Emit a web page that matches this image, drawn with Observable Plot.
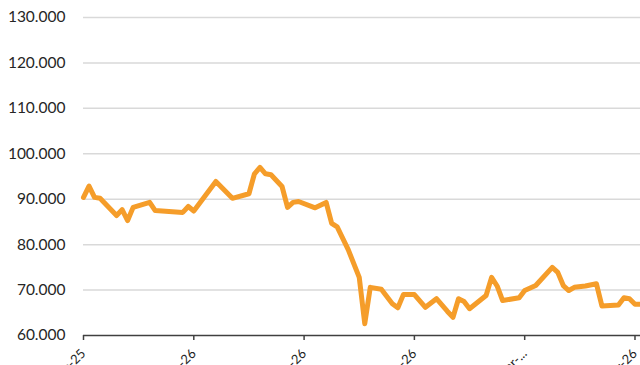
<!DOCTYPE html>
<html><head><meta charset="utf-8">
<script src="https://cdn.jsdelivr.net/npm/d3@7"></script>
<script src="https://cdn.jsdelivr.net/npm/@observablehq/plot@0.6"></script>
<style>body{margin:0;background:#fff;overflow:hidden;}</style>
</head><body><div id="chart"></div>
<script>
const dates = ["2025-12-15","2025-12-16","2025-12-17","2025-12-18","2025-12-21","2025-12-22","2025-12-23","2025-12-24","2025-12-27","2025-12-28",
"2026-01-02","2026-01-03","2026-01-04","2026-01-08","2026-01-11","2026-01-14","2026-01-15","2026-01-16","2026-01-17","2026-01-18",
"2026-01-20","2026-01-21","2026-01-22","2026-01-23","2026-01-26","2026-01-28","2026-01-29","2026-01-30","2026-02-01","2026-02-03",
"2026-02-04","2026-02-05","2026-02-07","2026-02-09","2026-02-10","2026-02-11","2026-02-13","2026-02-15","2026-02-17","2026-02-19",
"2026-02-20","2026-02-21","2026-02-22","2026-02-23","2026-02-26","2026-02-27","2026-02-28","2026-03-01","2026-03-04","2026-03-05",
"2026-03-07","2026-03-10","2026-03-11","2026-03-12","2026-03-13","2026-03-14","2026-03-16","2026-03-18","2026-03-19","2026-03-22",
"2026-03-23","2026-03-24","2026-03-25","2026-03-26"];
const values = [90400,92900,90400,90200,86400,87700,85300,88200,89300,87500,
87100,88400,87400,93900,90200,91200,95600,97000,95600,95400,
92800,88200,89300,89500,88100,89300,84700,83900,78900,72800,
62600,70600,70200,67000,66100,69000,69000,66200,68100,65300,
64000,68100,67500,65900,68800,72800,70900,67700,68300,69900,
71000,75000,73900,71000,69900,70600,70900,71400,66500,66700,
68300,68100,66900,66900];
const tickDates = ["2025-12-15","2026-01-04","2026-01-24","2026-02-13","2026-03-05","2026-03-25"];
const tickLabels = ["15-Dec-25","04-Jan-26","24-Jan-26","13-Feb-26","05-Mar-...","25-Mar-26"];
const yTicks = [60000,70000,80000,90000,100000,110000,120000,130000];

const parse = s => new Date(s + "T00:00:00Z");
const data = dates.map((d, i) => ({date: parse(d), value: values[i]}));
const tickDateObjs = tickDates.map(parse);
const fmt = d3.formatLocale({decimal: ",", thousands: ".", grouping: [3], currency: ["", ""]}).format(",.0f");
const xLabel = d => tickLabels[tickDateObjs.findIndex(t => +t === +d)];

const chart = Plot.plot({
  width: 640, height: 365,
  marginLeft: 83, marginRight: 0, marginTop: 17, marginBottom: 30,
  style: {fontFamily: "Lato", background: "#fff", overflow: "visible"},
  x: {type: "utc", domain: [parse(dates[0]), parse(dates[dates.length - 1])], label: null},
  y: {domain: [60000, 130000], label: null},
  marks: [
    Plot.gridY(yTicks.slice(1), {stroke: "#d9d9d9", strokeOpacity: 1, strokeWidth: 1.5}),
    Plot.axisY(yTicks, {tickSize: 0, tickPadding: 18, tickFormat: fmt, fontSize: 15.5, fill: "#262626", label: null}),
    Plot.line(data, {x: "date", y: "value", stroke: "#f59d2a", strokeWidth: 5, strokeLinejoin: "round", strokeLinecap: "round"}),
    Plot.ruleY([60000], {stroke: "#404040", strokeWidth: 1.5}),
    Plot.axisX(tickDateObjs, {tickSize: 5, tickPadding: 11, tickRotate: -45, tickFormat: xLabel, fontSize: 13, fill: "#262626", stroke: "#404040", strokeWidth: 1.5, label: null})
  ]
});
document.getElementById("chart").appendChild(chart);
</script>
</body></html>
